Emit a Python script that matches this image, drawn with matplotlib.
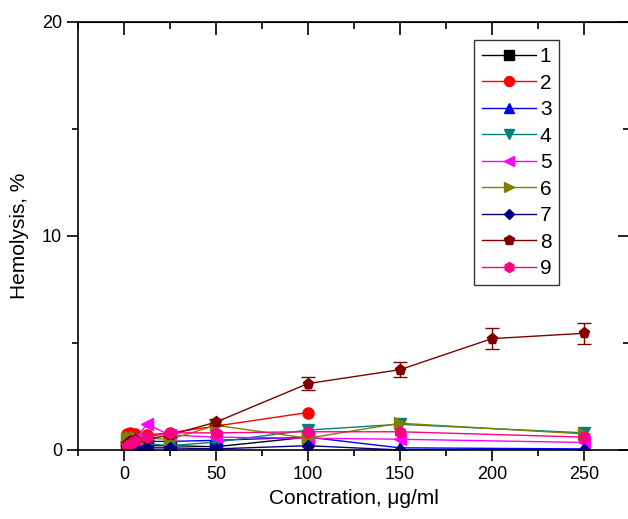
import matplotlib; matplotlib.use("Agg")
import matplotlib.pyplot as plt
from matplotlib.ticker import MultipleLocator

plt.rcParams["font.family"] = ["Liberation Sans", "DejaVu Sans"]

conc = [1.56, 3.125, 6.25, 12.5, 25, 50, 100, 150, 250]
conc8 = [1.56, 3.125, 6.25, 12.5, 25, 50, 100, 150, 200, 250]

s1 = [0.15, 0.2, 0.2, 0.2, 0.2, 0.15, 0.6]
s2 = [0.75, 0.8, 0.75, 0.7, 0.8, 1.75]
x2 = [1.56, 3.125, 6.25, 12.5, 25, 100]
s3 = [0.3, 0.35, 0.35, 0.4, 0.4, 0.45, 0.6, 0.1, 0.05]
s4 = [0.45, 0.5, 0.4, 0.3, 0.2, 0.37, 0.93, 1.2, 0.8]
s5 = [0.3, 0.4, 0.5, 1.2, 0.7, 0.6, 0.55, 0.5, 0.35]
s6 = [0.5, 0.6, 0.6, 0.55, 0.5, 1.15, 0.55, 1.25, 0.75]
s7 = [0.1, 0.1, 0.1, 0.1, 0.1, 0.05, 0.2, 0.0, 0.0]
s8 = [0.3, 0.4, 0.45, 0.5, 0.7, 1.3, 3.1, 3.75, 5.2, 5.45]
e8 = [0.05, 0.05, 0.05, 0.05, 0.1, 0.15, 0.3, 0.35, 0.5, 0.5]
s9 = [0.2, 0.3, 0.4, 0.6, 0.8, 0.8, 0.85, 0.85, 0.6]

series = [
    ("1", conc[:7], s1, "s", "#000000"),
    ("2", x2, s2, "o", "#ff0000"),
    ("3", conc, s3, "^", "#0000ff"),
    ("4", conc, s4, "v", "#008080"),
    ("5", conc, s5, "<", "#ff00ff"),
    ("6", conc, s6, ">", "#808000"),
    ("7", conc, s7, "D", "#000080"),
    ("8", conc8, s8, "p", "#800000"),
    ("9", conc, s9, "h", "#ff0080"),
]

fig = plt.figure(figsize=(6.28, 5.19), dpi=100)
ax = fig.add_axes([0.124, 0.133, 0.879, 0.825])

handles = []
for lab, x, y, m, c in series:
    ms = 6 if m == "D" else 8
    if lab == "8":
        ax.errorbar(x, y, yerr=e8, fmt="none", ecolor=c, elinewidth=1,
                    capsize=5, capthick=1)
    h, = ax.plot(x, y, marker=m, color=c, lw=1, ms=ms, label=lab)
    handles.append(h)

ax.set_xlim(-25, 275)
ax.set_ylim(0, 20)
ax.set_xticks([0, 50, 100, 150, 200, 250])
ax.set_yticks([0, 10, 20])
ax.xaxis.set_minor_locator(MultipleLocator(25))
ax.yaxis.set_minor_locator(MultipleLocator(5))
ax.tick_params(which="both", direction="out", labelsize=13, width=1.2)
ax.tick_params(which="major", length=8)
ax.tick_params(which="minor", length=4)

# inward mirror ticks on top/right
sec_x = ax.secondary_xaxis("top")
sec_x.set_xticks([0, 50, 100, 150, 200, 250])
sec_x.xaxis.set_minor_locator(MultipleLocator(25))
sec_x.tick_params(which="both", direction="in", labeltop=False, width=1.2)
sec_x.tick_params(which="major", length=9)
sec_x.tick_params(which="minor", length=5)
sec_y = ax.secondary_yaxis("right")
sec_y.set_yticks([0, 10, 20])
sec_y.yaxis.set_minor_locator(MultipleLocator(5))
sec_y.tick_params(which="both", direction="in", labelright=False, width=1.2)
sec_y.tick_params(which="major", length=9)
sec_y.tick_params(which="minor", length=5)

for sp in ax.spines.values():
    sp.set_linewidth(1.2)

ax.set_xlabel("Conctration, \u03bcg/ml", fontsize=15, labelpad=4)
ax.set_ylabel("Hemolysis, %", fontsize=15, labelpad=9)

leg = ax.legend(handles=handles, loc="upper left", bbox_to_anchor=(0.718, 0.958),
                fontsize=15, frameon=True, fancybox=False, edgecolor="black",
                handlelength=2.6, labelspacing=0.36, borderpad=0.35,
                handletextpad=0.2, borderaxespad=0, markerscale=0.9)
leg.get_frame().set_linewidth(1)

fig.savefig("out.png", dpi=100)
